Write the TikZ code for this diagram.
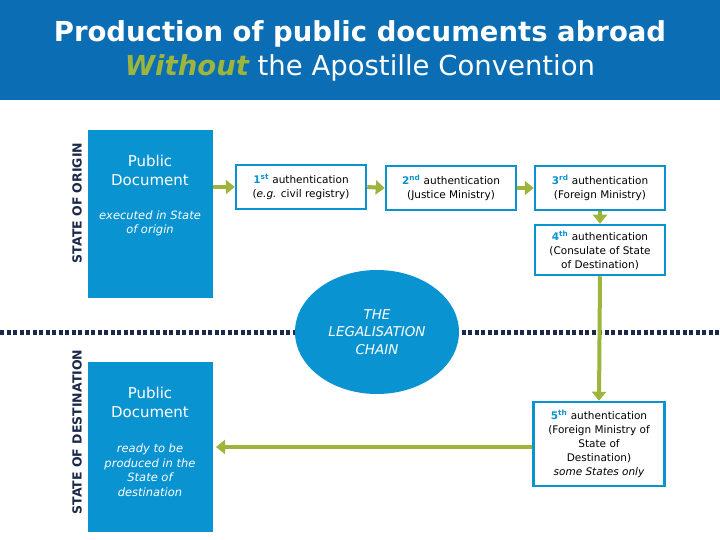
\documentclass[tikz,border=0pt]{standalone}
\usepackage{fontspec}
\setmainfont{DejaVu Sans}
\setsansfont{DejaVu Sans}
\usetikzlibrary{arrows.meta,shapes.geometric}
\definecolor{hdr}{HTML}{0B6DB3}
\definecolor{box}{HTML}{0A93D1}
\definecolor{grn}{HTML}{9DB53C}
\definecolor{navy}{HTML}{1B2A4A}
\begin{document}
\begin{tikzpicture}[x=1pt,y=-1pt,
  auth/.style={draw=box,line width=2.5pt,fill=white,align=center,font=\fontsize{10.5}{14}\selectfont\sffamily,inner sep=1pt},
  arr/.style={grn,line width=4pt,-{Triangle[length=9pt,width=14pt]}},
  bigbox/.style={fill=box,draw=none}]
\useasboundingbox (0,0) rectangle (720,540);
\fill[white] (0,0) rectangle (720,540);
\fill[hdr] (0,0) rectangle (720,100);
\node[text=white,font=\fontsize{27.5}{32}\selectfont\bfseries] (t1) at (360,34) {Production of public documents abroad};
\node[text=white,font=\fontsize{27.5}{32}\selectfont] (t2) at (360,68) {\textcolor{grn}{\bfseries\itshape Without} the Apostille Convention};
% dotted line
\draw[navy,line width=5pt,dash pattern=on 4pt off 2.5pt] (0,332) -- (720,332);
% big boxes
\fill[bigbox] (88,130) rectangle (213,298);
\fill[bigbox] (88,362) rectangle (213,532);
\node[text=white,align=center,font=\fontsize{15}{19}\selectfont] (pd1) at (150,170) {Public\\Document};
\node[text=white,align=center,font=\fontsize{11.5}{14}\selectfont\itshape] (ex1) at (150,223) {executed in State\\of origin};
\node[text=white,align=center,font=\fontsize{15}{19}\selectfont] (pd2) at (150,402) {Public\\Document};
\node[text=white,align=center,font=\fontsize{11.5}{14.5}\selectfont\itshape] (ex2) at (150,470) {ready to be\\produced in the\\State of\\destination};
\coordinate (b1r) at (213,187);
\coordinate (b2r) at (213,447);
% side labels
\node[rotate=90,font=\fontsize{12.5}{14}\selectfont\bfseries,text=navy] (so) at (77,203) {STATE OF ORIGIN};
\node[rotate=90,font=\fontsize{12.5}{14}\selectfont\bfseries,text=navy] (sd) at (77,432) {STATE OF DESTINATION};
% ellipse
\node[ellipse,fill=box,minimum width=164pt,minimum height=124pt,text=white,align=center,font=\fontsize{13.5}{17.5}\selectfont\itshape] (chain) at (377,332) {THE\\LEGALISATION\\CHAIN};
% auth boxes
\node[auth,minimum width=130pt,minimum height=44pt] (a1) at (301,187) {{\color{box}\bfseries 1\textsuperscript{st}} authentication\\(\textit{e.g.} civil registry)};
\node[auth,minimum width=130pt,minimum height=44pt] (a2) at (451,188) {{\color{box}\bfseries 2\textsuperscript{nd}} authentication\\(Justice Ministry)};
\node[auth,minimum width=130pt,minimum height=44pt] (a3) at (600,188) {{\color{box}\bfseries 3\textsuperscript{rd}} authentication\\(Foreign Ministry)};
\node[auth,minimum width=130pt,minimum height=50pt] (a4) at (600,250) {{\color{box}\bfseries 4\textsuperscript{th}} authentication\\(Consulate of State\\of Destination)};
\node[auth,minimum width=131pt,minimum height=84pt] (a5) at (599,444) {{\color{box}\bfseries 5\textsuperscript{th}} authentication\\(Foreign Ministry of\\State of\\Destination)\\{\itshape some States only}};
% arrows
\draw[arr] (b1r) -- (a1.west);
\draw[arr] (a1.east) -- (a2.west);
\draw[arr] (a2.east) -- (a3.west);
\draw[arr] (a3.south) -- (a4.north);
\draw[arr] (a4.south) -- (a5.north);
\draw[arr] (a5.west |- b2r) -- ([xshift=3pt]b2r);
\end{tikzpicture}
\end{document}
